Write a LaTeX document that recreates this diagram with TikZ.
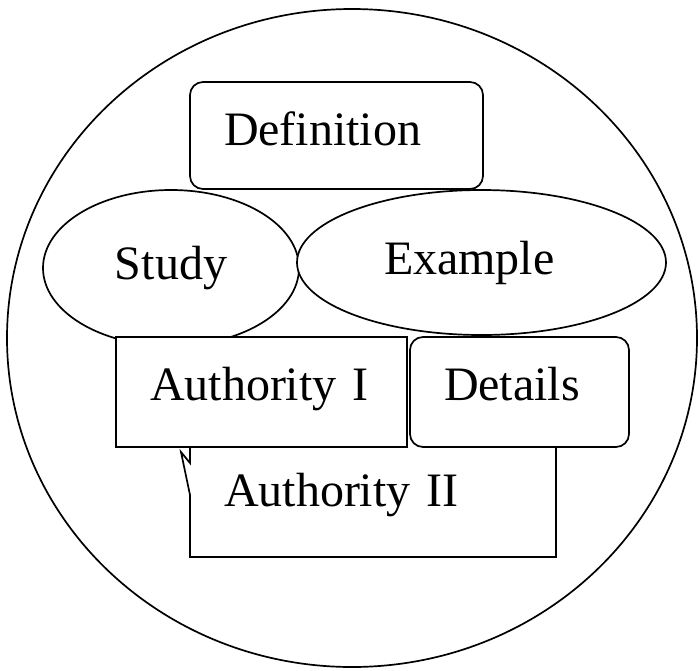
\documentclass[tikz,border=0pt]{standalone}
\usepackage{fontspec}
\setmainfont{Liberation Serif}
\usetikzlibrary{
  shapes.geometric,
  positioning,
}
\tikzstyle{textbox} = [
rectangle,
draw,
fill=white,
align=left,
inner xsep=34pt,
inner ysep=0pt,
outer sep=0pt,
text height=63pt,
text depth=47pt
]
\tikzstyle{roundbox} = [
textbox,
rounded corners=13pt
]
\tikzstyle{bubble} = [
ellipse,
draw,
fill=white,
inner sep=0pt,
outer sep=0pt
]

\begin{document}
\begin{tikzpicture}[x=1pt, y=-1pt, line width=1.7pt, node distance=2pt,
  font=\fontsize{48}{58}\selectfont]
  \useasboundingbox (0,0) rectangle (698,670);
  % Outer frame
  \draw (352,338) ellipse [x radius=345, y radius=329];

  % Place nodes
  \node [roundbox, text width=225pt, text depth=44pt] (definition) at (336.5,135.5) {Definition};
  \node [bubble, minimum width=256pt, minimum height=156pt] (study) at (171,268) {Study};
  \node [bubble, minimum width=369pt, minimum height=145pt, text width=195pt, align=left,
    right=-2pt of study, yshift=5.5pt] (example) {Example};

  \node [textbox, draw=none, fill=none, text width=298pt, text height=59pt, text depth=51pt,
    anchor=north west] (authII) at (190,447) {Authority~II};
  \node [textbox, text width=223pt, anchor=north west] (authI) at (116,337) {Authority~I};
  \node [roundbox, text width=151pt, right=3pt of authI] (details) {Details};

  % Outline of the callout
  \draw (authII.north west) -- ([yshift=-16pt]authII.north west)
    -- ([xshift=-9pt,yshift=-5pt]authII.north west)
    -- ([yshift=-48pt]authII.north west) -- (authII.south west)
    -- (authII.south east) -- (authII.north east);

\end{tikzpicture}
\end{document}
